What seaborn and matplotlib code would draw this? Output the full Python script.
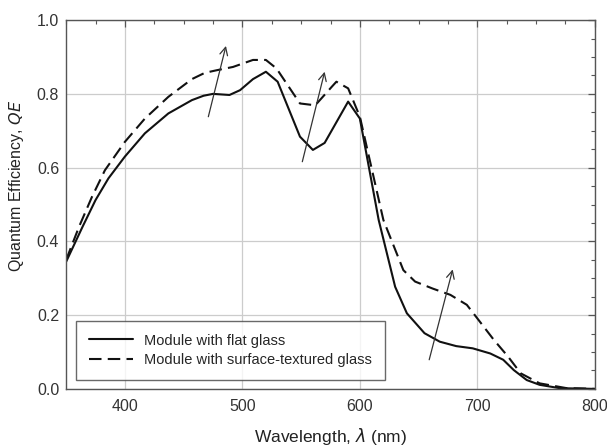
import matplotlib
matplotlib.use("Agg")
import matplotlib.pyplot as plt
from matplotlib.ticker import MultipleLocator, FormatStrFormatter
import seaborn as sns
import pandas as pd

flat_wl = [350, 364, 375, 386, 400, 417, 437, 457, 467, 475, 489, 498, 509, 520, 530, 549, 560, 570,
           590, 600, 616, 630, 640, 655, 668, 682, 696, 711, 722, 731, 742, 753, 770, 785, 800]
flat_qe = [0.345, 0.44, 0.512, 0.571, 0.63, 0.693, 0.747, 0.783, 0.795, 0.80, 0.797, 0.81, 0.84,
           0.86, 0.833, 0.684, 0.648, 0.667, 0.779, 0.733, 0.458, 0.277, 0.205, 0.151, 0.128,
           0.116, 0.110, 0.096, 0.079, 0.051, 0.024, 0.011, 0.002, 0.001, 0.0]

tex_wl = [350, 361, 372, 383, 400, 417, 437, 457, 468, 478, 492, 509, 520, 529, 549, 562, 576, 580,
          590, 600, 620, 629, 637, 647, 662, 677, 691, 700, 714, 726, 737, 753, 776, 790, 800]
tex_qe = [0.35, 0.44, 0.521, 0.593, 0.67, 0.733, 0.792, 0.840, 0.857, 0.864, 0.873, 0.892, 0.892,
          0.869, 0.774, 0.769, 0.819, 0.833, 0.815, 0.738, 0.458, 0.386, 0.322, 0.291, 0.272,
          0.255, 0.228, 0.191, 0.133, 0.088, 0.042, 0.015, 0.002, 0.001, 0.0]

labels = ["Module with flat glass", "Module with surface-textured glass"]

# arrows: (x_start, y_start) -> (x_end, y_end)
arrow_x0 = [471, 551, 659]
arrow_y0 = [0.738, 0.616, 0.079]
arrow_x1 = [486, 570, 679]
arrow_y1 = [0.93, 0.86, 0.324]

df = pd.concat([
    pd.DataFrame({"wl": flat_wl, "qe": flat_qe, "series": labels[0]}),
    pd.DataFrame({"wl": tex_wl, "qe": tex_qe, "series": labels[1]}),
])

sns.set_style("white")
plt.rcParams['font.family'] = ['Liberation Sans', 'DejaVu Sans']

fig, ax = plt.subplots(figsize=(6.07, 4.47), dpi=100)
fig.subplots_adjust(left=0.109, right=0.980, top=0.955, bottom=0.130)

sns.lineplot(data=df, x="wl", y="qe", style="series", color="#111111", linewidth=1.5,
             dashes={labels[0]: "", labels[1]: (6, 3)}, ax=ax, sort=False)

for x0, y0, x1, y1 in zip(arrow_x0, arrow_y0, arrow_x1, arrow_y1):
    ax.annotate("", xy=(x1, y1), xytext=(x0, y0),
                arrowprops=dict(arrowstyle="->", color="#333333", lw=0.9,
                                mutation_scale=14, shrinkA=0, shrinkB=0))

ax.set_xlim(350, 800)
ax.set_ylim(0, 1.0)
ax.xaxis.set_major_locator(MultipleLocator(100))
ax.xaxis.set_minor_locator(MultipleLocator(25))
ax.yaxis.set_major_locator(MultipleLocator(0.2))
ax.yaxis.set_minor_locator(MultipleLocator(0.05))
ax.yaxis.set_major_formatter(FormatStrFormatter("%.1f"))
ax.grid(True, which="major", color="#cccccc", linewidth=0.9)
ax.tick_params(which="both", direction="in", top=True, right=True, colors="#555555",
               labelcolor="#333333", labelsize=11.5)
ax.tick_params(axis="x", which="major", pad=7)
ax.tick_params(axis="y", which="major", pad=5)
ax.tick_params(which="major", length=5, width=0.9)
ax.tick_params(which="minor", length=3, width=0.8)
for s in ax.spines.values():
    s.set_color("#555555")
    s.set_linewidth(1.0)

ax.set_xlabel("Wavelength, $\\lambda$ (nm)", fontsize=12.5, color="#222222", va="center")
ax.set_ylabel("Quantum Efficiency, $QE$", fontsize=11.5, color="#222222", va="center")
ax.xaxis.set_label_coords(0.5, -0.128)
ax.yaxis.set_label_coords(-0.094, 0.55)

leg = ax.legend(title=None, loc="lower left", bbox_to_anchor=(0.019, 0.024), borderaxespad=0,
                fontsize=10.5, frameon=True, fancybox=False, edgecolor="#444444",
                handlelength=3.0, borderpad=0.87, labelspacing=0.4)
leg.get_frame().set_linewidth(1.0)

fig.savefig("out.png", dpi=100)
